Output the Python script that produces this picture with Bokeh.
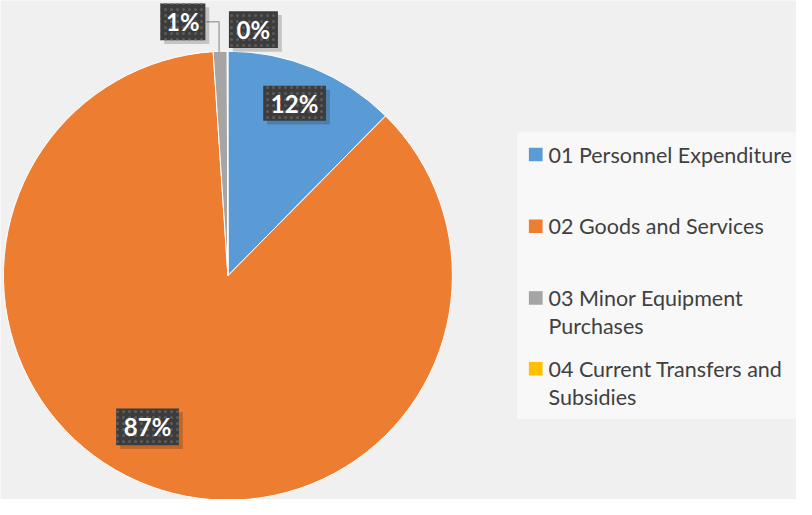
import numpy as np
from bokeh.plotting import figure
from bokeh.models import Range1d, ColumnDataSource
from bokeh.core.properties import value
from bokeh.embed import file_html
from bokeh.resources import INLINE

# ---- data ----
categories = ["01 Personnel Expenditure", "02 Goods and Services",
              "03 Minor Equipment Purchases", "04 Current Transfers and Subsidies"]
shares = [12.4, 86.6, 1.0, 0.05]
pct_labels = ["12%", "87%", "1%", "0%"]
colors = ["#5b9bd5", "#ed7d31", "#a5a5a5", "#ffc000"]
legend_lines = [["01 Personnel Expenditure"], ["02 Goods and Services"],
                ["03 Minor Equipment", "Purchases"], ["04 Current Transfers and", "Subsidies"]]

# ---- layout (reference pixel space, y measured from top) ----
W, H = 812, 515
def Y(y):
    return H - y

cx, cy, R = 232, 284, 229
label_centers = [(300, 106), (150, 440), (186, 22), (258, 30)]
label_sizes = [(64, 36), (64, 38), (46, 38), (50, 38)]
legend_item_y = [159, 233, 307, 380]

p = figure(width=796, height=499, x_range=Range1d(0, W), y_range=Range1d(0, H),
           output_backend="svg", toolbar_location=None, min_border=0)
p.axis.visible = False
p.grid.visible = False
p.outline_line_color = None
p.background_fill_color = "#f0f0f0"
p.border_fill_color = "#f0f0f0"

# pie
fr = np.array(shares) / sum(shares)
ends = np.pi / 2 - 2 * np.pi * np.cumsum(fr)
starts = np.concatenate([[np.pi / 2], ends[:-1]])
src = ColumnDataSource(dict(start=starts, end=ends, color=colors))
p.wedge(x=cx, y=Y(cy), radius=R, start_angle="start", end_angle="end",
        direction="clock", fill_color="color", line_color="white", line_width=1,
        source=src)

# leader line for 1%
p.line(x=[210, 223, 223], y=[Y(22), Y(22), Y(57)], line_color="#a6a6a6", line_width=1.5)

# data labels
for (lx, ly), (bw, bh), t in zip(label_centers, label_sizes, pct_labels):
    p.quad(left=lx - bw / 2 + 4, right=lx + bw / 2 + 4, top=Y(ly - bh / 2 + 4),
           bottom=Y(ly + bh / 2 + 4), fill_color="#000000", fill_alpha=0.18, line_color=None)
    p.quad(left=lx - bw / 2, right=lx + bw / 2, top=Y(ly - bh / 2), bottom=Y(ly + bh / 2),
           fill_color="#3c3c3c", line_color=None, hatch_pattern="dot",
           hatch_color="#5c5c5c", hatch_scale=6, hatch_weight=2)
    p.text(x=[lx], y=[Y(ly)], text=[t], text_color="white", text_font=value("Lato"),
           text_font_style="bold", text_font_size="24px", text_align="center",
           text_baseline="middle")

# legend
p.quad(left=527, right=W, top=Y(136), bottom=Y(432), fill_color="#f8f8f8", line_color=None)
for yy, col, lines in zip(legend_item_y, colors, legend_lines):
    p.quad(left=539, right=553, top=Y(yy - 7), bottom=Y(yy + 7), fill_color=col, line_color=None)
    for k, ln in enumerate(lines):
        p.text(x=[559], y=[Y(yy + 29 * k)], text=[ln], text_color="#404040",
               text_font=value("Lato"), text_font_size="21.5px", text_align="left",
               text_baseline="middle")

open("out.html", "w").write(file_html(p, INLINE))
